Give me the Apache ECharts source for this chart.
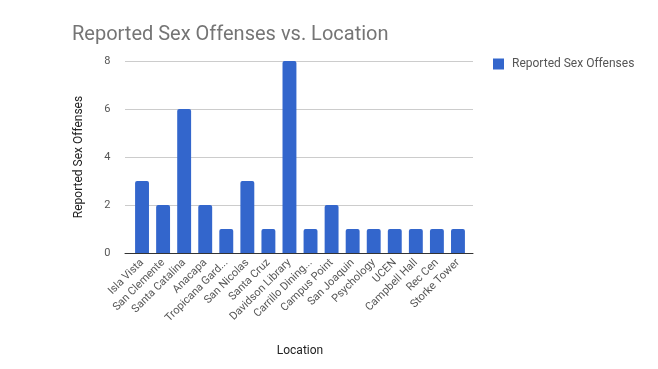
<!DOCTYPE html>
<html><head><meta charset="utf-8">
<script src="https://cdn.jsdelivr.net/npm/echarts@6/dist/echarts.min.js"></script>
<style>html,body{margin:0;padding:0;background:#fff}#c{width:658px;height:369px}</style>
</head><body><div id="c"></div>
<script>
const categories = ["Isla Vista","San Clemente","Santa Catalina","Anacapa","Tropicana Gard...","San Nicolas","Santa Cruz","Davidson Library","Carrillo Dining...","Campus Point","San Joaquin","Psychology","UCEN","Campbell Hall","Rec Cen","Storke Tower"];
const values = [3,2,6,2,1,3,1,8,1,2,1,1,1,1,1,1];
const yTicks = {min:0, max:8, interval:2};
const seriesName = "Reported Sex Offenses";
const chart = echarts.init(document.getElementById('c'));
chart.setOption({
  animation:false,
  textStyle:{fontFamily:'Roboto, Arial, sans-serif'},
  title:{text:'Reported Sex Offenses vs. Location',left:67,top:20,textStyle:{fontSize:20,fontWeight:'normal',color:'#757575',fontFamily:'Roboto, Arial, sans-serif'}},
  legend:{data:[seriesName],left:488,top:53,itemWidth:11,itemHeight:11,icon:'rect',textStyle:{fontSize:12,color:'#555',padding:[0,0,0,3]}},
  grid:[
    {left:131.5,right:189.5,top:61,bottom:116},
    {left:125,right:185,top:61,bottom:116}
  ],
  xAxis:[
    {type:'category',gridIndex:0,data:categories,name:'Location',nameLocation:'middle',nameGap:92,nameTextStyle:{fontSize:12,color:'#222'},
     axisLine:{show:false},axisTick:{show:false},
     axisLabel:{rotate:45,interval:0,fontSize:11,color:'#555',margin:8}},
    {type:'value',gridIndex:1,min:0,max:1,axisLabel:{show:false},axisTick:{show:false},splitLine:{show:false},
     axisLine:{show:true,lineStyle:{color:'#333'}}}
  ],
  yAxis:[
    {type:'value',gridIndex:0,min:yTicks.min,max:yTicks.max,interval:yTicks.interval,name:'Reported Sex Offenses',nameLocation:'middle',nameGap:47,nameTextStyle:{fontSize:12,color:'#222'},
     axisLine:{show:false},axisTick:{show:false},axisLabel:{fontSize:11,color:'#555',margin:21},
     splitLine:{show:false}},
    {type:'value',gridIndex:1,min:yTicks.min,max:yTicks.max,interval:yTicks.interval,axisLine:{show:false},axisTick:{show:false},axisLabel:{show:false},
     splitLine:{lineStyle:{color:'#ccc'}}}
  ],
  series:[{name:seriesName,type:'bar',xAxisIndex:0,yAxisIndex:0,data:values,barWidth:'66%',z:3,itemStyle:{color:'#3366cc',borderRadius:[2,2,0,0]}}]
});
</script></body></html>
